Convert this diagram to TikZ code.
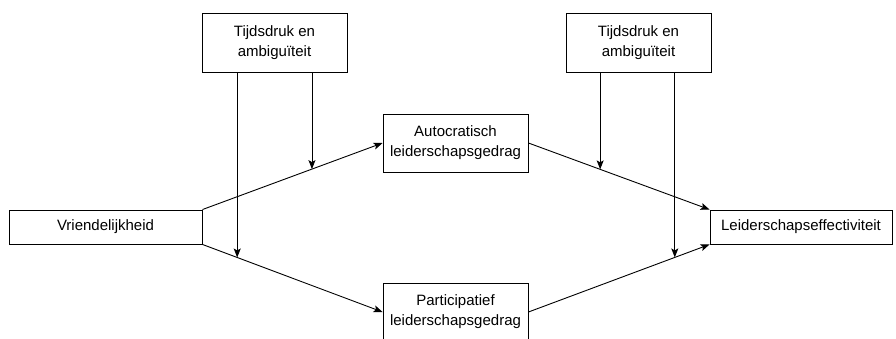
\documentclass[tikz,border=0pt]{standalone}
\usepackage{fontspec}
\setmainfont{Liberation Sans}
\usetikzlibrary{arrows.meta}

\begin{document}
\begin{tikzpicture}[x=1pt,y=-1pt,
    blok/.style={draw, line width=0.9pt, align=center, inner sep=0pt,
        font=\fontsize{15}{20}\selectfont},
    pijl/.style={line width=0.9pt, -{Stealth[length=9pt,width=7pt,inset=2pt]}}]
    \useasboundingbox (0,0) rectangle (896,338);

    % Draw Boxes
    \node[blok, minimum width=193pt, minimum height=34pt] (vriend) at (105.5,227) {Vriendelijkheid};
    \node[blok, minimum width=145pt, minimum height=59pt] (druk1) at (274.5,42.5) {Tijdsdruk en\\ambiguïteit};
    \node[blok, minimum width=145pt, minimum height=58pt] (auto) at (455.5,143) {Autocratisch\\leiderschapsgedrag};
    \node[blok, minimum width=145pt, minimum height=58pt] (parti) at (455.5,312) {Participatief\\leiderschapsgedrag};
    \node[blok, minimum width=145pt, minimum height=59pt] (druk2) at (638.5,42.5) {Tijdsdruk en\\ambiguïteit};
    \node[blok, minimum width=182pt, minimum height=34pt] (effect) at (801,227) {Leiderschapseffectiviteit};

    % Draw Main Arrows
    \draw[pijl] (vriend.north east) -- coordinate[pos=0.608] (m1) (auto.west);
    \draw[pijl] (vriend.south east) -- coordinate[pos=0.193] (m2) (parti.west);
    \draw[pijl] (auto.east) -- coordinate[pos=0.396] (m3) (effect.north west);
    \draw[pijl] (parti.east) -- coordinate[pos=0.808] (m4) (effect.south west);

    % Draw Moderator Arrows
    \draw[pijl] (druk1.south -| m1) -- (m1);
    \draw[pijl] (druk1.south -| m2) -- (m2);
    \draw[pijl] (druk2.south -| m3) -- (m3);
    \draw[pijl] (druk2.south -| m4) -- (m4);
\end{tikzpicture}
\end{document}
